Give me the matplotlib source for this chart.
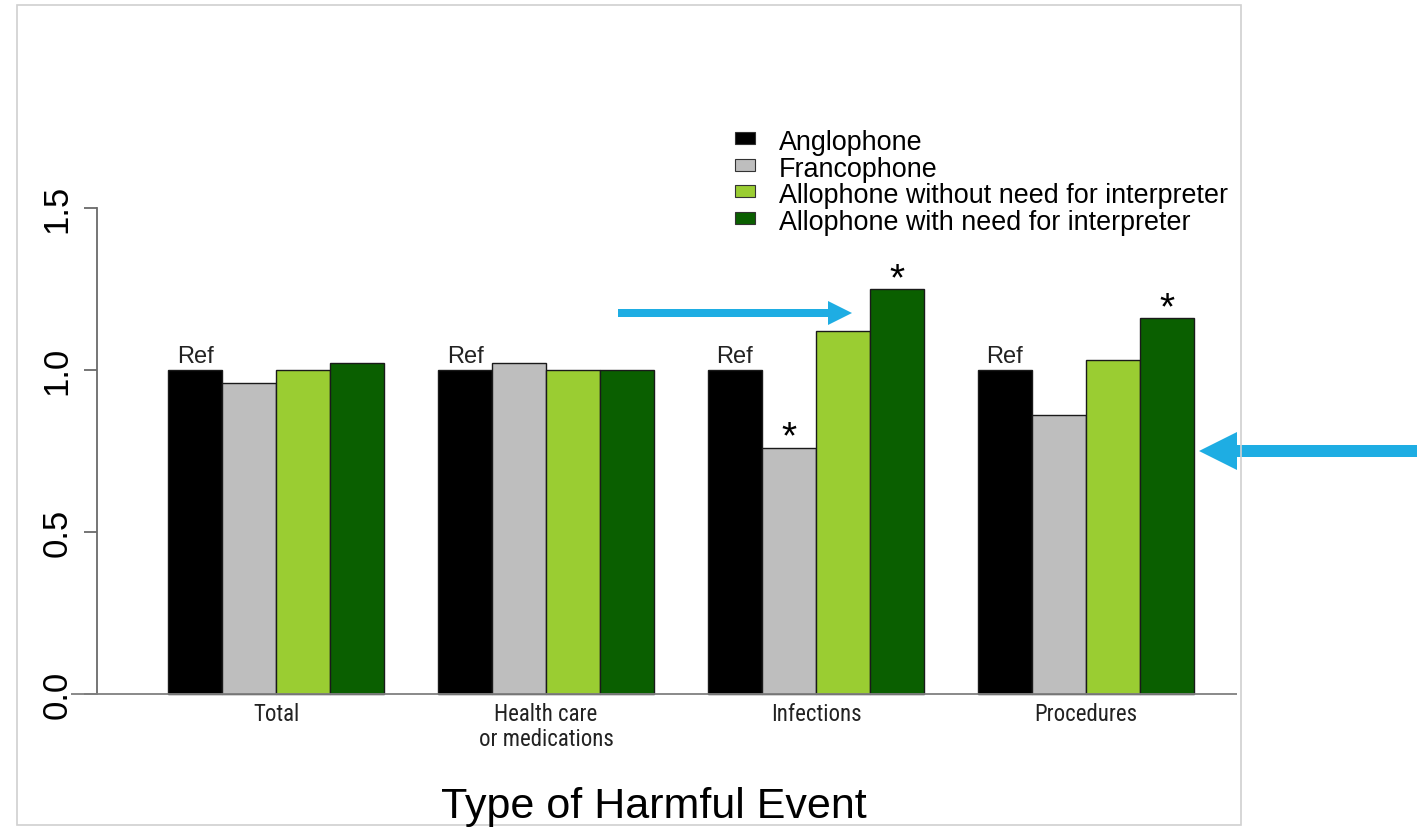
import matplotlib
matplotlib.use("Agg")
import matplotlib.pyplot as plt
from matplotlib import font_manager
from matplotlib.patches import Rectangle, FancyArrow
import numpy as np

categories = ["Total", "Health care\nor medications", "Infections", "Procedures"]
groups = ["Anglophone", "Francophone",
          "Allophone without need for interpreter",
          "Allophone with need for interpreter"]

anglophone = [1.00, 1.00, 1.00, 1.00]
francophone = [0.96, 1.02, 0.76, 0.86]
allo_no_interp = [1.00, 1.00, 1.12, 1.03]
allo_interp = [1.02, 1.00, 1.25, 1.16]

# reference group and significance marks
is_ref = [True, False, False, False]
stars = [
    [False, False, False, False],
    [False, False, True, False],
    [False, False, False, False],
    [False, False, True, True],
]

colors = ["#000000", "#bebebe", "#9acd32", "#0a5f00"]
series = [anglophone, francophone, allo_no_interp, allo_interp]

plt.rcParams["font.family"] = ["Liberation Sans", "DejaVu Sans"]
available = {f.name for f in font_manager.fontManager.ttflist}
narrow = next((f for f in ["Liberation Sans Narrow", "DejaVu Sans Condensed",
                           "Roboto Condensed"] if f in available), "Liberation Sans")

W, H = 1417, 828
fig = plt.figure(figsize=(W / 100, H / 100), dpi=100)
inch = fig.dpi_scale_trans


def px_box(l, t, r, b):
    return [l / W, 1 - b / H, (r - l) / W, (b - t) / H]


def px(x, y):
    return x / 100, (H - y) / 100


ax = fig.add_axes(px_box(71, 98.8, 1237, 714.4))
ax.set_xlim(-0.8, 20.8)
ax.set_ylim(-0.06, 1.84)

n = len(categories)
for j, (vals, c) in enumerate(zip(series, colors)):
    x = 1 + 5 * np.arange(n) + j
    ax.bar(x, vals, width=1, align="edge", color=c, edgecolor="#1a1a1a",
           linewidth=1.0, zorder=2)
    for xi, v, s in zip(x, vals, stars[j]):
        if is_ref[j]:
            ax.text(xi + 0.5, v + 0.025, "Ref", ha="center", va="baseline",
                    fontsize=17, color="#222222")
        if s:
            ax.text(xi + 0.5, v + 0.0, "*", ha="center", va="baseline",
                    fontsize=28)

centers = 1 + 5 * np.arange(n) + 2
for cx, cat in zip(centers, categories):
    ax.text(cx, -0.025, cat, ha="center", va="top", fontsize=16.5,
            family=[narrow, "DejaVu Sans"], linespacing=1.1, color="#222222")

ax.axhline(0, color="#808080", lw=1.3, zorder=3)

for side in ["top", "right", "bottom"]:
    ax.spines[side].set_visible(False)
ax.spines["left"].set_position(("data", -0.32))
ax.spines["left"].set_bounds(0, 1.5)
ax.spines["left"].set_color("#6a6a6a")
ax.spines["left"].set_linewidth(1.3)
ax.set_xticks([])
ax.set_yticks([0, 0.5, 1.0, 1.5], ["0.0", "0.5", "1.0", "1.5"])
ax.tick_params(axis="y", length=9.4, width=1.3, color="#6a6a6a",
               labelsize=25, labelrotation=90, pad=7.5)
for lab in ax.get_yticklabels():
    lab.set_va("center")

fig.text(654 / W, 10 / H, "Type of Harmful Event", ha="center",
         va="baseline", fontsize=31)

# legend drawn by hand
for i, (name, c) in enumerate(zip(groups, colors)):
    base = 150 + 26.7 * i
    fig.patches.append(Rectangle(px(735, base - 5), 0.20, 0.12, transform=inch,
                                 facecolor=c, edgecolor="#333333", lw=0.8))
    fig.text(*px(779, base), name, transform=inch, va="baseline",
             fontsize=19.4)

# highlight arrows
for (x0, x1, y, w, hw) in [(618, 852, 314, 8, 24), (1417, 1199, 452, 12, 38)]:
    fig.patches.append(FancyArrow(*px(x0, y), (x1 - x0) / 100, 0, width=w / 100,
                                  head_width=hw / 100, head_length=hw / 100,
                                  length_includes_head=True, transform=inch,
                                  color="#1eade3", lw=0))

fig.patches.append(Rectangle(px(17, 826), 12.24, 8.20, transform=inch,
                             fill=False, edgecolor="#d0d0d0", lw=1.2))

fig.savefig("out.png", dpi=100)
